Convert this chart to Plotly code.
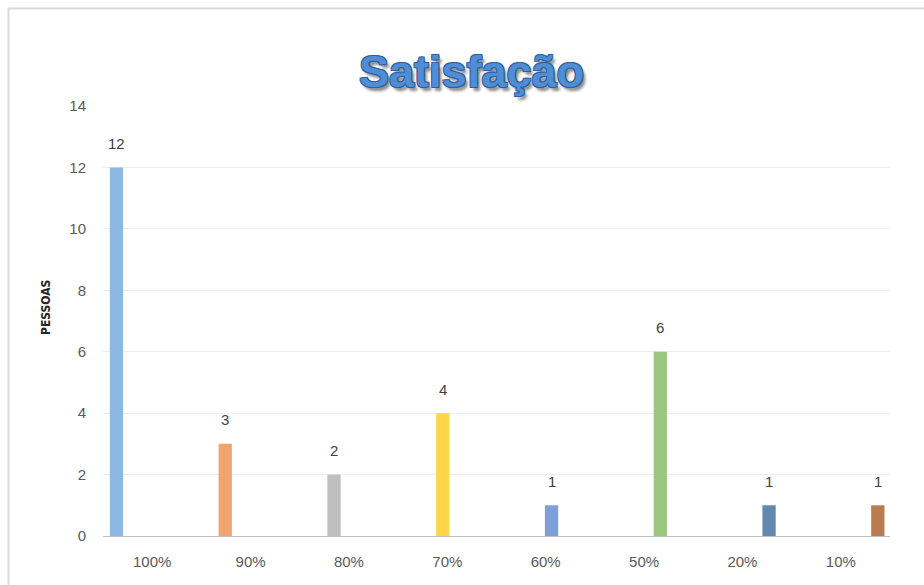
import plotly.graph_objects as go

categories = ["100%", "90%", "80%", "70%", "60%", "50%", "20%", "10%"]
values = [12, 3, 2, 4, 1, 6, 1, 1]
colors = ["#8CB8E4", "#F2A46E", "#BFBFBF", "#FFD54A", "#7E9FD9", "#9DC77E", "#6288B0", "#BA7C4E"]
y_ticks = [0, 2, 4, 6, 8, 10, 12, 14]
title_text = "Satisfação"
y_title = "PESSOAS"

W, H = 924, 585
ML, MR, MT, MB = 103, 34, 106, 49
pw, ph = W - ML - MR, H - MT - MB

bar_w = 0.135
first_c = -0.363
step = 0.1056

fig = go.Figure()
for i, (cat, v, col) in enumerate(zip(categories, values, colors)):
    c = first_c + step * i
    fig.add_trace(go.Bar(
        x=[cat], y=[v], name=cat, marker_color=col, marker_line_width=0,
        width=bar_w, offset=c - bar_w / 2, showlegend=False,
        hoverinfo="skip",
    ))
    fig.add_annotation(
        x=categories.index(cat) + c, y=v, text=str(v), showarrow=False,
        yanchor="middle", yshift=24,
        font=dict(family="Liberation Sans, Arial, sans-serif", size=15, color="#404040"),
    )

def px_x(px):
    return (px - ML) / pw

def px_y(py):
    return (H - MB - py) / ph

# title
fig.add_annotation(
    x=px_x(471), y=px_y(72), xref="paper", yref="paper", text=title_text,
    showarrow=False, xanchor="center", yanchor="middle",
    font=dict(family="Liberation Sans Narrow, Arial Narrow, Liberation Sans, sans-serif",
              size=45, color="#4F8ED6", weight="bold",
              shadow="1px 1px 0 #2F5F9E, -1px -1px 0 #2F5F9E, 1px -1px 0 #2F5F9E, -1px 1px 0 #2F5F9E, 3px 4px 3px #8a8a8a"),
)
# y-axis title
fig.add_annotation(
    x=px_x(46), y=px_y(308), xref="paper", yref="paper", text=y_title,
    showarrow=False, textangle=-90, xanchor="center", yanchor="middle",
    font=dict(family="Liberation Sans Narrow, DejaVu Sans Condensed, sans-serif",
              size=12, color="#262626", weight="bold"),
)

# chart border (top and left)
fig.add_shape(type="line", xref="paper", yref="paper",
              x0=px_x(8), y0=px_y(8.5), x1=px_x(930), y1=px_y(8.5),
              line=dict(color="#D9D9D9", width=2))
fig.add_shape(type="line", xref="paper", yref="paper",
              x0=px_x(8.5), y0=px_y(8), x1=px_x(8.5), y1=px_y(590),
              line=dict(color="#D9D9D9", width=2))

fig.update_layout(
    width=W, height=H,
    margin=dict(l=ML, r=MR, t=MT, b=MB),
    paper_bgcolor="white", plot_bgcolor="white",
    barmode="overlay",
    xaxis=dict(
        type="category", categoryorder="array", categoryarray=categories,
        showgrid=False, showline=True, linecolor="#BFBFBF", linewidth=1,
        ticks="", ticklabelstandoff=12,
        tickfont=dict(family="Liberation Sans, Arial, sans-serif", size=15, color="#595959"),
        range=[-0.5, len(categories) - 0.5],
    ),
    yaxis=dict(
        range=[0, 14], tickvals=y_ticks, showgrid=True, gridcolor="#EDEDED", gridwidth=1,
        zeroline=False, showline=False, ticks="", ticklabelstandoff=16,
        tickfont=dict(family="Liberation Sans, Arial, sans-serif", size=15, color="#595959"),
    ),
)

fig.write_html("out.html")
